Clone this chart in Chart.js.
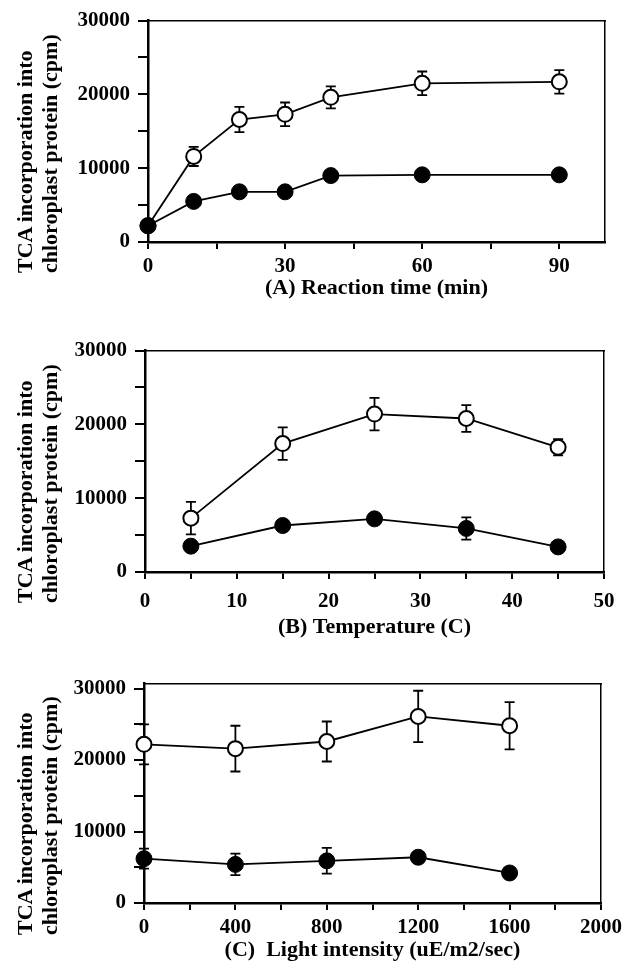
<!DOCTYPE html>
<html>
<head>
<meta charset="utf-8">
<script src="https://cdn.jsdelivr.net/npm/chart.js@4.4.0/dist/chart.umd.min.js"></script>
<style>
  body { margin: 0; background: #fff; width: 627px; height: 975px; position: relative; overflow: hidden; }
  canvas { position: absolute; left: 0; }
  .ytitle {
    position: absolute; left: 12px;
    transform: rotate(-90deg); transform-origin: 0 0;
    font: bold 22px/25px "Liberation Serif", serif; color: #000; white-space: nowrap;
  }
</style>
</head>
<body>
<canvas id="chartA" width="627" height="302" style="top:0px"></canvas>
<canvas id="chartB" width="627" height="311" style="top:330px"></canvas>
<canvas id="chartC" width="627" height="301" style="top:663px"></canvas>
<div class="ytitle" style="top:273px">TCA incorporation into<br>chloroplast protein (cpm)</div>
<div class="ytitle" style="top:603px">TCA incorporation into<br>chloroplast protein (cpm)</div>
<div class="ytitle" style="top:935px">TCA incorporation into<br>chloroplast protein (cpm)</div>
<script>
// (A) reaction time
const timeX = [0, 10, 20, 30, 40, 60, 90];
const timeFilled = [2200, 5500, 6800, 6800, 9000, 9100, 9100];
const timeFilledErr = [0, 0, 0, 0, 0, 0, 0];
const timeOpen = [2200, 11600, 16600, 17300, 19600, 21500, 21700];
const timeOpenErr = [0, 1300, 1700, 1600, 1500, 1600, 1600];

// (B) temperature
const tempX = [5, 15, 25, 35, 45];
const tempFilled = [3500, 6300, 7200, 5900, 3400];
const tempFilledErr = [0, 0, 0, 1500, 0];
const tempOpen = [7300, 17400, 21400, 20800, 16900];
const tempOpenErr = [2200, 2200, 2200, 1800, 1100];

// (C) light intensity
const lightX = [0, 400, 800, 1200, 1600];
const lightFilled = [6200, 5400, 5900, 6400, 4200];
const lightFilledErr = [1400, 1500, 1800, 0, 0];
const lightOpen = [22200, 21600, 22600, 26100, 24800];
const lightOpenErr = [2800, 3200, 2800, 3600, 3300];

const serif = "'Liberation Serif', 'Times New Roman', serif";

// error bars drawn under the lines and markers
const errorBarPlugin = {
  id: "errorBars",
  beforeDatasetsDraw(chart) {
    const ctx = chart.ctx;
    const xs = chart.scales.x;
    const ys = chart.scales.y;
    ctx.save();
    ctx.strokeStyle = "#000";
    ctx.lineWidth = 1.8;
    chart.data.datasets.forEach((ds) => {
      (ds.errorBars || []).forEach((e, j) => {
        if (!e) return;
        const p = ds.data[j];
        const px = xs.getPixelForValue(p.x);
        const top = ys.getPixelForValue(p.y + e);
        const bot = ys.getPixelForValue(p.y - e);
        ctx.beginPath();
        ctx.moveTo(px, top); ctx.lineTo(px, bot);
        ctx.moveTo(px - 5, top); ctx.lineTo(px + 5, top);
        ctx.moveTo(px - 5, bot); ctx.lineTo(px + 5, bot);
        ctx.stroke();
      });
    });
    ctx.restore();
  },
};

function points(xs, ys) {
  return xs.map((x, i) => ({ x: x, y: ys[i] }));
}

// ticks every `step` from 0, without the extra tick at max
function stepTicks(step) {
  return (s) => {
    const out = [];
    for (let v = 0; v <= s.max + 1e-9; v += step) out.push({ value: v });
    s.ticks = out;
  };
}

function makePanel(id, p) {
  const ctx = document.getElementById(id).getContext("2d");
  return new Chart(ctx, {
    type: "line",
    data: {
      datasets: [
        {
          label: "filled",
          data: points(p.xs, p.filled),
          errorBars: p.filledErr,
          borderColor: "#000",
          borderWidth: 1.8,
          pointRadius: 8,
          pointBackgroundColor: "#000",
          pointBorderColor: "#000",
          pointBorderWidth: 1,
          clip: false,
        },
        {
          label: "open",
          data: points(p.xs, p.open),
          errorBars: p.openErr,
          borderColor: "#000",
          borderWidth: 1.8,
          pointRadius: 7.5,
          pointBackgroundColor: "#fff",
          pointBorderColor: "#000",
          pointBorderWidth: 2,
          clip: false,
        },
      ],
    },
    options: {
      responsive: false,
      animation: false,
      layout: { padding: p.padding },
      plugins: { legend: { display: false }, tooltip: { enabled: false } },
      scales: {
        x: {
          type: "linear",
          position: "bottom",
          min: 0,
          max: p.xMax,
          afterBuildTicks: stepTicks(p.xStep),
          afterFit: (s) => { s.height = p.xAxisH; },
          ticks: {
            autoSkip: false,
            maxRotation: 0,
            padding: p.xPad,
            color: "#000",
            font: { family: serif, size: 21, weight: "bold" },
            callback: (v) => (v % p.xLabelStep === 0 ? v : ""),
          },
          grid: { drawOnChartArea: false, tickLength: 7, color: "#000", lineWidth: 2 },
          border: { color: "#000", width: 2.5 },
          title: {
            display: true,
            text: p.xTitle,
            color: "#000",
            padding: 0,
            font: { family: serif, size: 22, weight: "bold" },
          },
        },
        y: {
          type: "linear",
          position: "left",
          min: 0,
          max: p.yMax,
          afterBuildTicks: stepTicks(5000),
          afterFit: (s) => { s.width = 80; },
          ticks: {
            autoSkip: false,
            padding: 8,
            color: "#000",
            font: { family: serif, size: 21, weight: "bold" },
            callback: (v) => (v % 10000 === 0 ? v : ""),
          },
          grid: { drawOnChartArea: false, tickLength: 10, color: "#000", lineWidth: 2 },
          border: { color: "#000", width: 2.5 },
        },
        x2: {
          type: "linear",
          position: "top",
          ticks: { display: false },
          grid: { drawOnChartArea: false, drawTicks: false },
          border: { color: "#000", width: 1.5 },
        },
        y2: {
          type: "linear",
          position: "right",
          ticks: { display: false },
          grid: { drawOnChartArea: false, drawTicks: false },
          border: { color: "#000", width: 1.5 },
        },
      },
    },
    plugins: [errorBarPlugin],
  });
}

makePanel("chartA", {
  xs: timeX, filled: timeFilled, filledErr: timeFilledErr, open: timeOpen, openErr: timeOpenErr,
  xMax: 100, xStep: 15, xLabelStep: 30, yMax: 30000, xPad: 5, xAxisH: 60,
  padding: { top: 15, left: 68, right: 22, bottom: 0 },
  xTitle: "(A) Reaction time (min)",
});

makePanel("chartB", {
  xs: tempX, filled: tempFilled, filledErr: tempFilledErr, open: tempOpen, openErr: tempOpenErr,
  xMax: 50, xStep: 5, xLabelStep: 10, yMax: 30000, xPad: 10, xAxisH: 69,
  padding: { top: 15, left: 65, right: 23, bottom: 0 },
  xTitle: "(B) Temperature (C)",
});

makePanel("chartC", {
  xs: lightX, filled: lightFilled, filledErr: lightFilledErr, open: lightOpen, openErr: lightOpenErr,
  xMax: 2000, xStep: 200, xLabelStep: 400, yMax: 30700, xPad: 5, xAxisH: 61,
  padding: { top: 15, left: 64, right: 24, bottom: 0 },
  xTitle: "(C)  Light intensity (uE/m2/sec)",
});
</script>
</body>
</html>
